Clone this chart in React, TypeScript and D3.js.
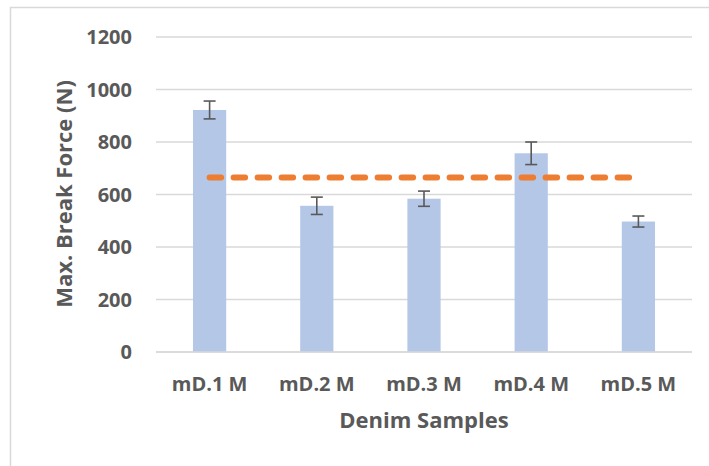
import React from "react";
import * as d3 from "d3";

const categories = ["mD.1 M", "mD.2 M", "mD.3 M", "mD.4 M", "mD.5 M"];
const breakForce = [922, 557, 584, 757, 497];
const errorValues = [34, 33, 29, 43, 21];
const averageLine = [665, 665, 665, 665, 665];
const yTicks = [0, 200, 400, 600, 800, 1000, 1200];
const xTitle = "Denim Samples";
const yTitle = "Max. Break Force (N)";

const W = 709;
const H = 466;
const plotLeft = 156;
const plotRight = 692;
const plotTop = 37;
const plotBottom = 352;
const FONT = "'Open Sans', sans-serif";
const TEXT = "#595959";

export default function App() {
  const x = d3.scaleBand<string>().domain(categories).range([plotLeft, plotRight]).padding(0);
  const y = d3.scaleLinear().domain([0, 1200]).range([plotBottom, plotTop]);
  const barW = x.bandwidth() * 0.31;
  const cx = (c: string) => (x(c) as number) + x.bandwidth() / 2;
  const line = d3
    .line<number>()
    .x((_, i) => cx(categories[i]))
    .y((d) => y(d));

  return (
    <svg
      width={W}
      height={H}
      style={{ position: "fixed", left: 0, top: 0, background: "#fff" }}
      fontFamily={FONT}
    >
      <rect x={0} y={0} width={W} height={H} fill="#fff" />
      <rect x={10.5} y={7.5} width={W + 20} height={H + 20} fill="none" stroke="#d9d9d9" strokeWidth={1.5} />
      {yTicks.map((t) => (
        <g key={t}>
          <line x1={plotLeft} x2={plotRight} y1={y(t)} y2={y(t)} stroke="#d9d9d9" strokeWidth={1.5} />
          <text x={132} y={y(t)} dy="0.36em" textAnchor="end" fontSize={20} fontWeight={700} fill={TEXT}>
            {t}
          </text>
        </g>
      ))}
      {categories.map((c, i) => (
        <rect
          key={c}
          x={cx(c) - barW / 2}
          y={y(breakForce[i])}
          width={barW}
          height={y(0) - y(breakForce[i])}
          fill="#b4c7e7"
        />
      ))}
      <line x1={plotLeft} x2={plotRight} y1={y(0)} y2={y(0)} stroke="#d9d9d9" strokeWidth={1.5} />
      {categories.map((c, i) => {
        const top = y(breakForce[i] + errorValues[i]);
        const bot = y(breakForce[i] - errorValues[i]);
        const xc = cx(c);
        return (
          <g key={c} stroke="#595959" strokeWidth={1.6}>
            <line x1={xc} x2={xc} y1={top} y2={bot} />
            <line x1={xc - 6} x2={xc + 6} y1={top} y2={top} />
            <line x1={xc - 6} x2={xc + 6} y1={bot} y2={bot} />
          </g>
        );
      })}
      <path
        d={line(averageLine) || ""}
        fill="none"
        stroke="#ed7d31"
        strokeWidth={6}
        strokeLinecap="round"
        strokeDasharray="11.5 12.5"
      />
      {categories.map((c) => (
        <text key={c} x={cx(c)} y={391} textAnchor="middle" fontSize={20} fontWeight={700} fill={TEXT}>
          {c}
        </text>
      ))}
      <text x={(plotLeft + plotRight) / 2} y={428} textAnchor="middle" fontSize={22} fontWeight={700} fill={TEXT}>
        {xTitle}
      </text>
      <text
        transform={`translate(72, ${194}) rotate(-90)`}
        textAnchor="middle"
        fontSize={22}
        fontWeight={700}
        fill={TEXT}
      >
        {yTitle}
      </text>
    </svg>
  );
}
